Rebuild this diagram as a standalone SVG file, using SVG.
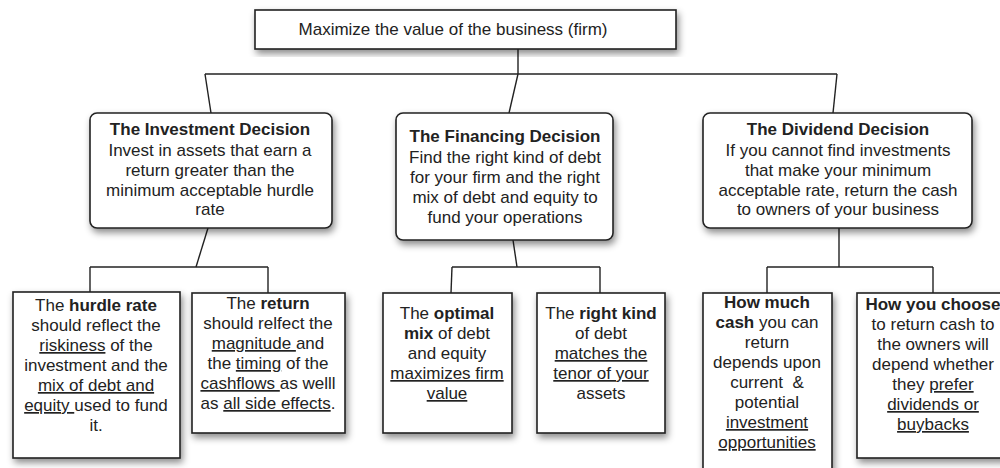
<svg xmlns="http://www.w3.org/2000/svg" width="1000" height="468" viewBox="0 0 1000 468">
  <defs>
    <filter id="shadow" x="-20%" y="-20%" width="140%" height="140%">
      <feDropShadow dx="2" dy="4" stdDeviation="3.5" flood-color="#000" flood-opacity="0.45"/>
    </filter>
    <style>
      .box { fill: #fff; stroke: #222; stroke-width: 1.6; filter: url(#shadow); }
      .conn { fill: none; stroke: #222; stroke-width: 1.4; }
      text { font-family: "Liberation Sans", Arial, sans-serif; font-size: 17px; fill: #222; text-anchor: middle; }
      .b { font-weight: bold; }
      .u { text-decoration: underline; }
      .title { font-weight: bold; }
    </style>
  </defs>
  <rect width="1000" height="468" fill="#fff"/>

  <!-- tree connectors -->
  <g id="connectors" class="conn">
    <path d="M518 49 V74"/>
    <path d="M205 74 H837"/>
    <path d="M205 74 L211 113"/>
    <path d="M518 74 L509 113"/>
    <path d="M837 74 L833 113"/>
    <path d="M208 228 L196 267"/>
    <path d="M90 267 H268"/>
    <path d="M90 267 V292"/>
    <path d="M268 267 V293"/>
    <path d="M513 240 L517 267"/>
    <path d="M452 267 H600"/>
    <path d="M452 267 L451 293"/>
    <path d="M600 267 V293"/>
    <path d="M839 228 V267"/>
    <path d="M767 267 H933"/>
    <path d="M767 267 V293"/>
    <path d="M933 267 V293"/>
  </g>

  <!-- root goal -->
  <g id="goal">
    <rect class="box" x="255" y="10" width="421" height="39"/>
    <text x="453" y="35">Maximize the value of the business (firm)</text>
  </g>

  <!-- three decisions -->
  <g id="investment">
    <rect class="box" x="90" y="113" width="242" height="115" rx="7"/>
    <text x="210" y="135" class="title">The Investment Decision</text>
    <text x="210" y="156">Invest in assets that earn a</text>
    <text x="210" y="176">return greater than the</text>
    <text x="210" y="196">minimum acceptable hurdle</text>
    <text x="210" y="215">rate</text>
  </g>

  <g id="financing">
    <rect class="box" x="396" y="113" width="217" height="127" rx="7"/>
    <text x="505" y="142" class="title">The Financing Decision</text>
    <text x="505" y="163">Find the right kind of debt</text>
    <text x="505" y="183">for your firm and the right</text>
    <text x="505" y="203">mix of debt and equity to</text>
    <text x="505" y="223">fund your operations</text>
  </g>

  <g id="dividend">
    <rect class="box" x="703" y="113" width="269" height="115" rx="7"/>
    <text x="838" y="135" class="title">The Dividend Decision</text>
    <text x="838" y="156">If you cannot find investments</text>
    <text x="838" y="176">that make your minimum</text>
    <text x="838" y="196">acceptable rate, return the cash</text>
    <text x="838" y="215">to owners of your business</text>
  </g>

  <!-- detail boxes -->
  <g id="hurdle-rate">
    <rect class="box" x="13" y="292" width="167" height="166"/>
    <text x="96" y="311">The <tspan class="b">hurdle rate</tspan></text>
    <text x="96" y="331">should reflect the</text>
    <text x="96" y="351"><tspan class="u">riskiness</tspan> of the</text>
    <text x="96" y="371">investment and the</text>
    <text x="96" y="391"><tspan class="u">mix of debt and</tspan></text>
    <text x="96" y="411"><tspan class="u">equity </tspan>used to fund</text>
    <text x="96" y="431">it.</text>
  </g>

  <g id="return">
    <rect class="box" x="192" y="293" width="153" height="140"/>
    <text x="268" y="309">The <tspan class="b">return</tspan></text>
    <text x="268" y="329">should relfect the</text>
    <text x="268" y="349"><tspan class="u">magnitude </tspan>and</text>
    <text x="268" y="369">the <tspan class="u">timing</tspan> of the</text>
    <text x="268" y="389"><tspan class="u">cashflows </tspan>as welll</text>
    <text x="268" y="409">as <tspan class="u">all side effects</tspan>.</text>
  </g>

  <g id="optimal-mix">
    <rect class="box" x="383" y="293" width="129" height="140"/>
    <text x="447" y="319">The <tspan class="b">optimal</tspan></text>
    <text x="447" y="339"><tspan class="b">mix</tspan> of debt</text>
    <text x="447" y="359">and equity</text>
    <text x="447" y="379"><tspan class="u">maximizes firm</tspan></text>
    <text x="447" y="399"><tspan class="u">value</tspan></text>
  </g>

  <g id="right-kind">
    <rect class="box" x="537" y="293" width="128" height="140"/>
    <text x="601" y="319">The <tspan class="b">right kind</tspan></text>
    <text x="601" y="339">of debt</text>
    <text x="601" y="359"><tspan class="u">matches the</tspan></text>
    <text x="601" y="379"><tspan class="u">tenor of your</tspan></text>
    <text x="601" y="399">assets</text>
  </g>

  <g id="how-much">
    <rect class="box" x="703" y="293" width="129" height="185"/>
    <text x="767" y="308"><tspan class="b">How much</tspan></text>
    <text x="767" y="328"><tspan class="b">cash</tspan> you can</text>
    <text x="767" y="348">return</text>
    <text x="767" y="368">depends upon</text>
    <text x="767" y="388" xml:space="preserve">current  &amp;</text>
    <text x="767" y="408">potential</text>
    <text x="767" y="428"><tspan class="u">investment</tspan></text>
    <text x="767" y="448"><tspan class="u">opportunities</tspan></text>
  </g>

  <g id="how-choose">
    <rect class="box" x="857" y="293" width="155" height="165"/>
    <text x="933" y="310"><tspan class="b">How you choose</tspan></text>
    <text x="933" y="330">to return cash to</text>
    <text x="933" y="350">the owners will</text>
    <text x="933" y="370">depend whether</text>
    <text x="933" y="390">they <tspan class="u">prefer</tspan></text>
    <text x="933" y="410"><tspan class="u">dividends or</tspan></text>
    <text x="933" y="430"><tspan class="u">buybacks</tspan></text>
  </g>
</svg>
